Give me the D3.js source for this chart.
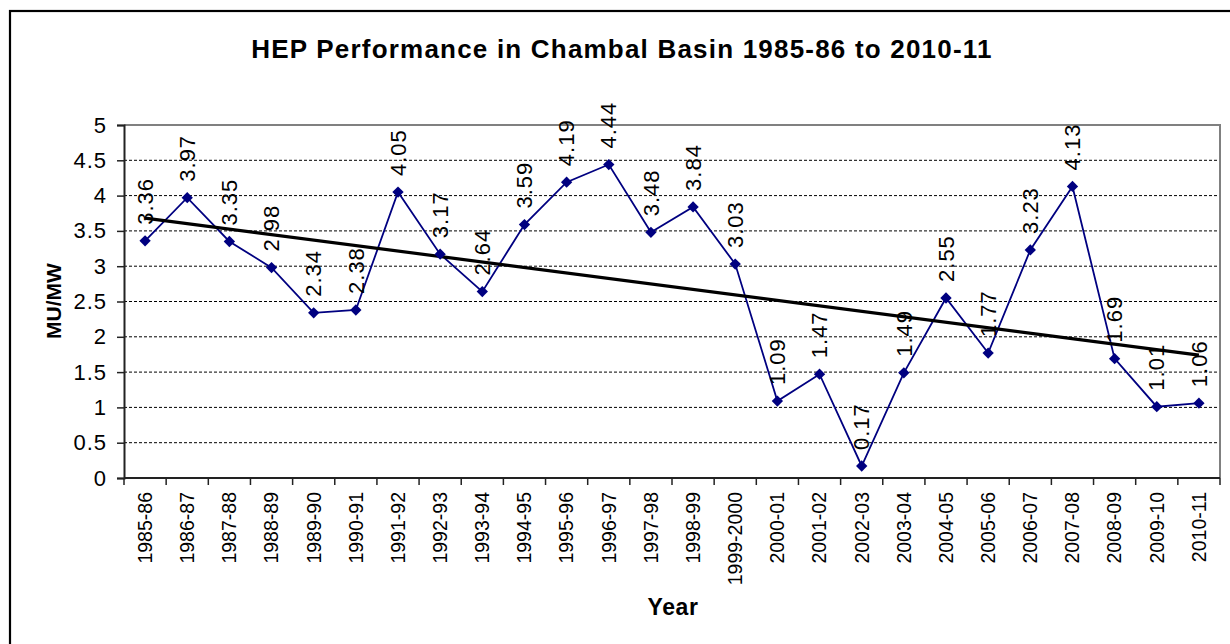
<!DOCTYPE html>
<html>
<head>
<meta charset="utf-8">
<script src="https://cdn.jsdelivr.net/npm/d3@7"></script>
<style>
  body { margin: 0; background: #fff; }
  svg text { font-family: "Liberation Sans", Arial, sans-serif; fill: #000; }
</style>
</head>
<body>
<div class="chart"></div>
<script>
const years = ["1985-86","1986-87","1987-88","1988-89","1989-90","1990-91","1991-92","1992-93","1993-94","1994-95","1995-96","1996-97","1997-98","1998-99","1999-2000","2000-01","2001-02","2002-03","2003-04","2004-05","2005-06","2006-07","2007-08","2008-09","2009-10","2010-11"];
const muPerMw = [3.36,3.97,3.35,2.98,2.34,2.38,4.05,3.17,2.64,3.59,4.19,4.44,3.48,3.84,3.03,1.09,1.47,0.17,1.49,2.55,1.77,3.23,4.13,1.69,1.01,1.06];
const yTicks = [0,0.5,1,1.5,2,2.5,3,3.5,4,4.5,5];

const width = 1230, height = 644;
const margin = {left: 124, right: 10, top: 125, bottom: 166};

const svg = d3.select(".chart").append("svg")
    .attr("width", width)
    .attr("height", height);

// outer chart frame (runs off the right and bottom edges)
svg.append("rect")
    .attr("x", 10).attr("y", 11)
    .attr("width", 1300).attr("height", 700)
    .attr("fill", "none").attr("stroke", "#000").attr("stroke-width", 2.2);

const x = d3.scaleBand().domain(years).range([margin.left, width - margin.right]);
const y = d3.scaleLinear().domain([0, 5]).range([height - margin.bottom, margin.top]);

// gridlines
svg.append("g").selectAll("line")
    .data(yTicks.filter(d => d > 0 && d < 5))
    .enter().append("line")
    .attr("x1", margin.left).attr("x2", width - margin.right)
    .attr("y1", d => y(d)).attr("y2", d => y(d))
    .attr("stroke", "#000").attr("stroke-width", 1)
    .attr("stroke-dasharray", "3,2");

// plot area border (top + right grey)
svg.append("path")
    .attr("d", `M${margin.left},${y(5)}H${width - margin.right}V${y(0)}`)
    .attr("fill", "none").attr("stroke", "#808080").attr("stroke-width", 2);

// y axis
const yAxis = svg.append("g")
    .attr("transform", `translate(${margin.left},0)`)
    .call(d3.axisLeft(y).tickValues(yTicks).tickSize(7).tickPadding(10).tickFormat(d3.format("")));
yAxis.select(".domain").attr("stroke", "#222").attr("stroke-width", 2);
yAxis.selectAll(".tick line").attr("stroke", "#222").attr("stroke-width", 1.5);
yAxis.selectAll("text")
    .attr("font-size", 22).attr("letter-spacing", 1)
    .attr("font-family", "Liberation Sans, Arial, sans-serif");

// x axis: ticks between categories
const xAxis = svg.append("g").attr("transform", `translate(0,${y(0)})`);
xAxis.append("line")
    .attr("x1", margin.left).attr("x2", width - margin.right)
    .attr("stroke", "#222").attr("stroke-width", 2);
const bounds = years.map(d => x(d)).concat([width - margin.right]);
xAxis.selectAll(".tk").data(bounds).enter().append("line")
    .attr("x1", d => d).attr("x2", d => d)
    .attr("y1", 0).attr("y2", 7)
    .attr("stroke", "#222").attr("stroke-width", 1.5);
xAxis.selectAll(".lbl").data(years).enter().append("text")
    .attr("transform", d => `translate(${x(d) + x.bandwidth() / 2},14) rotate(-90)`)
    .attr("dy", "0.35em")
    .attr("text-anchor", "end")
    .attr("font-size", 19.5)
    .text(d => d);

// trend line (least squares)
const n = muPerMw.length;
const xs = d3.range(n);
const mx = d3.mean(xs), my = d3.mean(muPerMw);
const slope = d3.sum(xs, i => (i - mx) * (muPerMw[i] - my)) / d3.sum(xs, i => (i - mx) ** 2);
const icpt = my - slope * mx;
const cx = i => x(years[i]) + x.bandwidth() / 2;

// series line
svg.append("path")
    .datum(muPerMw)
    .attr("fill", "none").attr("stroke", "#000080").attr("stroke-width", 1.8)
    .attr("d", d3.line().x((d, i) => cx(i)).y(d => y(d)));

svg.append("line")
    .attr("x1", cx(0)).attr("y1", y(icpt))
    .attr("x2", cx(n - 1)).attr("y2", y(icpt + slope * (n - 1)))
    .attr("stroke", "#000").attr("stroke-width", 3.2);

// markers
svg.append("g").selectAll("path")
    .data(muPerMw).enter().append("path")
    .attr("transform", (d, i) => `translate(${cx(i)},${y(d)}) rotate(45)`)
    .attr("d", d3.symbol().type(d3.symbolSquare).size(64))
    .attr("fill", "#000080");

// data labels
svg.append("g").selectAll("text")
    .data(muPerMw).enter().append("text")
    .attr("transform", (d, i) => `translate(${cx(i)},${y(d) - 16}) rotate(-90)`)
    .attr("dy", "0.35em")
    .attr("font-size", 22).attr("letter-spacing", 1)
    .text(d => d.toFixed(2));

// titles
svg.append("text")
    .attr("x", 622).attr("y", 58)
    .attr("text-anchor", "middle")
    .attr("font-size", 26).attr("font-weight", "bold").attr("letter-spacing", 1.2)
    .text("HEP Performance in Chambal Basin 1985-86 to 2010-11");

svg.append("text")
    .attr("transform", "translate(61,301) rotate(-90)")
    .attr("text-anchor", "middle")
    .attr("font-size", 21).attr("font-weight", "bold")
    .text("MU/MW");

svg.append("text")
    .attr("x", 673).attr("y", 615)
    .attr("text-anchor", "middle")
    .attr("font-size", 23).attr("font-weight", "bold").attr("letter-spacing", 0.6)
    .text("Year");
</script>
</body>
</html>
